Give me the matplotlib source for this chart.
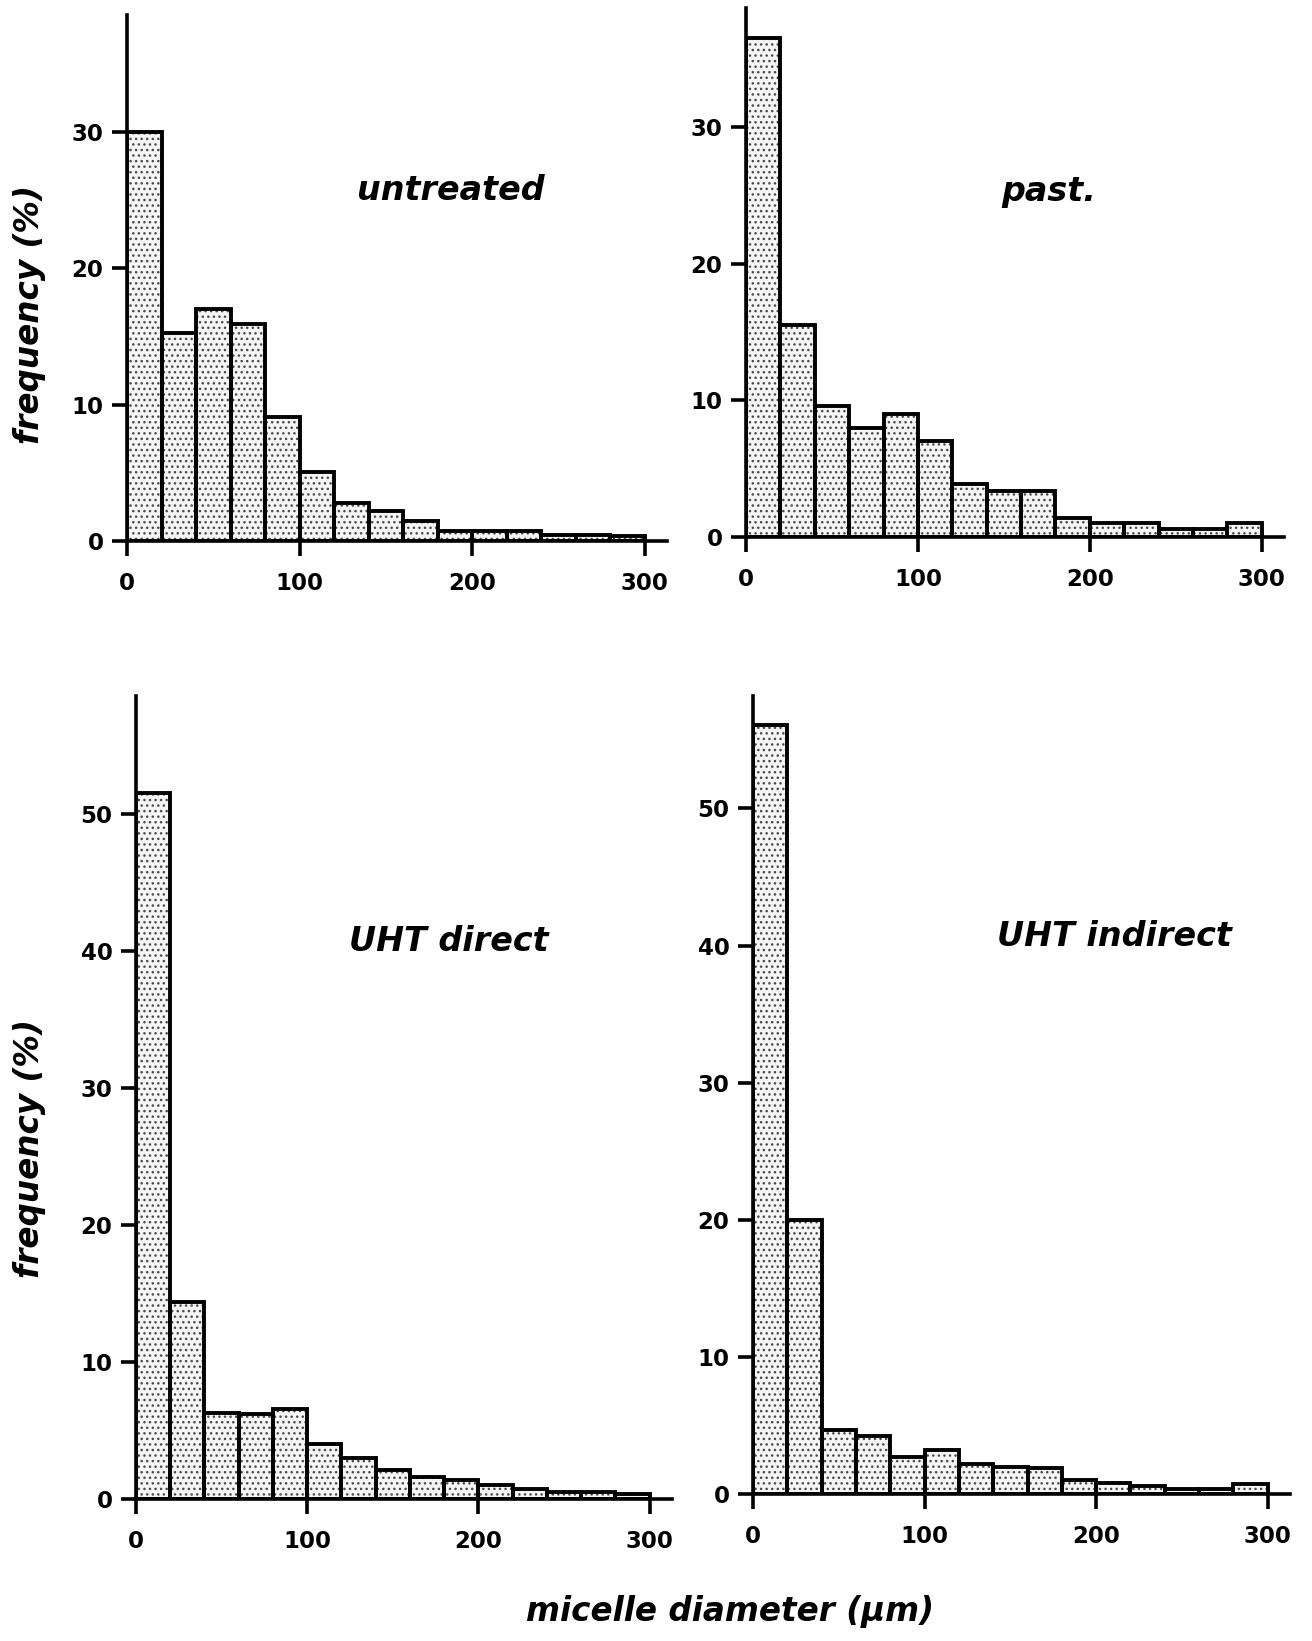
import matplotlib
matplotlib.use("Agg")
import matplotlib.pyplot as plt
import numpy as np

# Micelle diameter classes (µm): 15 bins of 20 µm from 0 to 300
bin_edges = list(range(0, 320, 20))

# Frequency (%) per diameter class
untreated = [30.0, 15.3, 17.0, 15.9, 9.1, 5.1, 2.8, 2.2, 1.5, 0.7, 0.7, 0.7, 0.45, 0.45, 0.4]
past = [36.5, 15.5, 9.6, 8.0, 9.0, 7.0, 3.9, 3.4, 3.4, 1.4, 1.0, 1.0, 0.6, 0.6, 1.0]
uht_direct = [51.5, 14.4, 6.3, 6.2, 6.6, 4.0, 3.0, 2.1, 1.6, 1.4, 1.0, 0.7, 0.5, 0.5, 0.4]
uht_indirect = [56.1, 20.0, 4.7, 4.2, 2.7, 3.2, 2.2, 2.0, 1.9, 1.0, 0.8, 0.6, 0.4, 0.4, 0.7]

panel_titles = ["untreated", "past.", "UHT direct", "UHT indirect"]
x_ticks = [0, 100, 200, 300]
y_ticks_top = [0, 10, 20, 30]
y_ticks_bottom = [0, 10, 20, 30, 40, 50]

plt.rcParams["font.family"] = "DejaVu Sans"
plt.rcParams["hatch.linewidth"] = 1.0

W, H = 1312, 1641
fig = plt.figure(figsize=(W / 100, H / 100), dpi=100)
fig.patch.set_facecolor("white")


def frac_axes(x0, y0_px, x1, ytop_px):
    """Axes placed from pixel coordinates (origin top-left)."""
    return fig.add_axes([x0 / W, 1 - y0_px / H, (x1 - x0) / W, (y0_px - ytop_px) / H])


panels = [
    # (left px, zero-line px, right px, top px, ymax, values, yticks)
    (127, 541, 667, 15, 38.6, untreated, y_ticks_top),
    (746, 537, 1284, 8, 38.7, past, y_ticks_top),
    (136, 1499, 672, 696, 58.6, uht_direct, y_ticks_bottom),
    (753, 1494, 1290, 696, 58.2, uht_indirect, y_ticks_bottom),
]

edges = np.array(bin_edges)
lefts = edges[:-1]
widths = np.diff(edges)

for (x0, y0, x1, yt, ymax, vals, yt_list) in panels:
    ax = frac_axes(x0, y0, x1, yt)
    ax.set_xlim(0, 313)
    ax.set_ylim(0, ymax)
    # stippled fill
    ax.bar(lefts, vals, width=widths, align="edge", facecolor="#f5f5f5",
           edgecolor="#4a4a4a", linewidth=0, hatch="...", zorder=1)
    # bar outlines
    ax.bar(lefts, vals, width=widths, align="edge", fill=False,
           edgecolor="black", linewidth=2.8, zorder=2)
    for side in ("top", "right"):
        ax.spines[side].set_visible(False)
    for side in ("left", "bottom"):
        ax.spines[side].set_linewidth(2.6)
        ax.spines[side].set_zorder(3)
    ax.set_xticks(x_ticks)
    ax.set_yticks(yt_list)
    ax.tick_params(axis="both", direction="out", length=11, width=2.6,
                   labelsize=16.5)
    ax.tick_params(axis="x", pad=11)
    ax.tick_params(axis="y", pad=6)
    for lab in ax.get_xticklabels() + ax.get_yticklabels():
        lab.set_fontweight("bold")
    ax.set_facecolor("none")

title_pos = [(451, 190), (1049, 192), (449, 942), (1114, 937)]
for t, (px, py) in zip(panel_titles, title_pos):
    fig.text(px / W, 1 - py / H, t, ha="center", va="center",
             fontsize=24, fontweight="bold", fontstyle="italic")

for py in (315, 1149):
    fig.text(30 / W, 1 - py / H, "frequency (%)", rotation=90, ha="center",
             va="center", fontsize=23.5, fontweight="bold", fontstyle="italic")

fig.text(730 / W, 1 - 1612 / H, "micelle diameter (µm)", ha="center",
         va="center", fontsize=23.5, fontweight="bold", fontstyle="italic")

fig.savefig("out.png", dpi=100, facecolor="white")
